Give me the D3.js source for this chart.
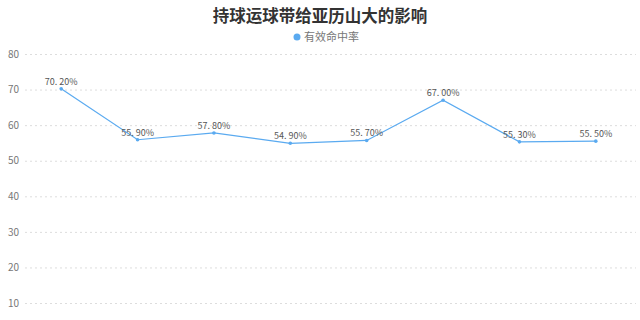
<!DOCTYPE html>
<html><head><meta charset="utf-8">
<script src="https://cdn.jsdelivr.net/npm/d3@7"></script>
<style>body{margin:0;background:#fff}svg{display:block}</style>
</head><body>
<svg id="c" width="640" height="320"></svg>
<script>
const categories = ["1","2","3","4","5","6","7","8"];
const values = [70.2, 55.9, 57.8, 54.9, 55.7, 67.0, 55.3, 55.5];
const yTicks = [10, 20, 30, 40, 50, 60, 70, 80];
const title = "持球运球带给亚历山大的影响";
const seriesName = "有效命中率";

const svg = d3.select("#c");
const font = "'Noto Sans CJK SC', 'Noto Sans', sans-serif";
const color = "#5aaaf0";
const x = d3.scalePoint().domain(categories).range([23, 634]).padding(0.5);
const y = d3.scaleLinear().domain([0, 80]).range([338.6, 54]);

svg.append("text").attr("x", 320).attr("y", 22).attr("text-anchor", "middle")
  .attr("font-family", font).attr("font-size", 16.5).attr("font-weight", "bold")
  .attr("fill", "#333").text(title);

svg.append("circle").attr("cx", 297).attr("cy", 37).attr("r", 3.5).attr("fill", color);
svg.append("text").attr("x", 304).attr("y", 41).attr("font-family", font)
  .attr("font-size", 11).attr("fill", "#777").text(seriesName);

const yAxis = d3.axisLeft(y).tickValues(yTicks).tickSize(-611).tickPadding(6);
const g = svg.append("g").attr("transform", "translate(25,0)").call(yAxis);
g.select(".domain").remove();
g.selectAll(".tick line").attr("stroke", "#ddd").attr("stroke-dasharray", "2,3");
g.selectAll(".tick text").attr("font-family", font).attr("font-size", 10).attr("fill", "#777");

const line = d3.line().x((d, i) => x(categories[i])).y(d => y(d));
svg.append("path").datum(values).attr("d", line).attr("fill", "none")
  .attr("stroke", color).attr("stroke-width", 1.2);

svg.selectAll(".pt").data(values).enter().append("circle")
  .attr("cx", (d, i) => x(categories[i])).attr("cy", d => y(d)).attr("r", 1.8)
  .attr("fill", color);

svg.selectAll(".lbl").data(values).enter().append("text")
  .attr("x", (d, i) => x(categories[i])).attr("y", d => y(d) - 4)
  .attr("text-anchor", "middle").attr("font-family", font).attr("font-size", 9)
  .attr("fill", "#555").text(d => d.toFixed(2).replace(".", ". ") + "%");
</script>
</body></html>
